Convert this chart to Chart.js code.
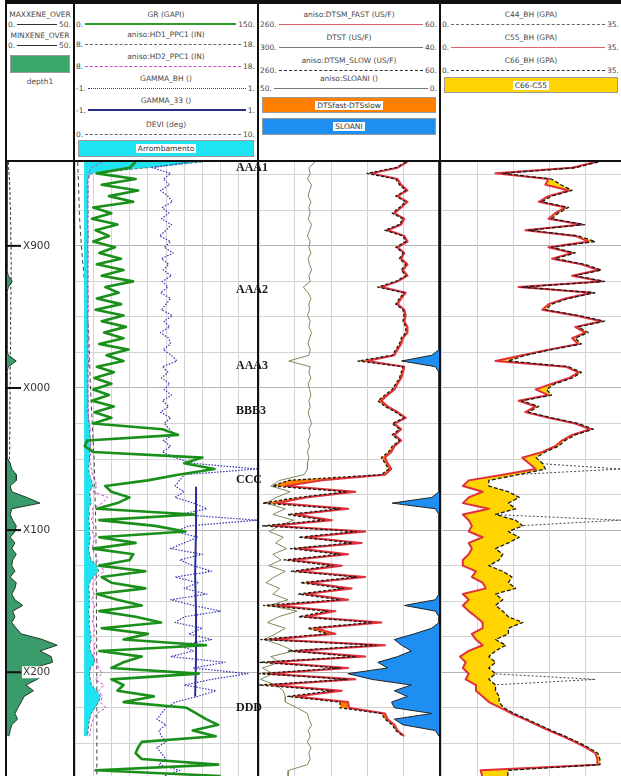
<!DOCTYPE html>
<html><head><meta charset="utf-8">
<script src="https://cdn.jsdelivr.net/npm/chart.js@4.4.1/dist/chart.umd.min.js"></script>
<style>
body{margin:0;background:#fff;}
#wrap{position:relative;width:621px;height:776px;overflow:hidden;background:#fff;font-family:"DejaVu Sans",sans-serif;}
.t{position:absolute;text-align:center;font-size:7.5px;color:#4a4a4a;white-space:nowrap;line-height:9px;}
.r{position:absolute;display:flex;align-items:center;font-size:7.5px;color:#4a4a4a;height:10px;white-space:nowrap;}
.r .ln{flex:1;margin:0 2px;height:0;}
.box{position:absolute;display:flex;align-items:center;justify-content:center;box-sizing:border-box;border:1px solid #9a9a9a;}
.box span{background:#fff;font-size:7.5px;color:#333;padding:0 2px;line-height:9px;}
.sep{position:absolute;background:#111;z-index:20;}
canvas{position:absolute;}
</style></head>
<body><div id="wrap">
<canvas id="c1" width="66" height="614" style="left:7px;top:162px;z-index:2"></canvas>
<canvas id="c4" width="180" height="614" style="left:441px;top:162px;z-index:1"></canvas>
<canvas id="c3" width="180" height="614" style="left:259px;top:162px;z-index:2"></canvas>
<canvas id="c2" width="230" height="614" style="left:75px;top:162px;z-index:3"></canvas>
</div>
<script>
// ---------------- DATA ----------------
const depth = [841,845,849,853,857,861,865,869,873,877,881,885,889,893,897,901,905,909,913,917,921,925,929,933,937,941,945,949,953,957,961,965,969,973,977,981,985,989,993,997,1001,1005,1009,1013,1017,1021,1025,1029,1033,1037,1041,1045,1049,1053,1057,1061,1065,1069,1073,1077,1081,1085,1089,1093,1097,1101,1105,1109,1113,1117,1121,1125,1129,1133,1137,1141,1145,1149,1153,1157,1161,1165,1169,1173,1177,1181,1185,1189,1193,1197,1201,1205,1209,1213,1217,1221,1225,1229,1233,1237,1241,1245,1249,1253,1257,1261,1265,1269,1273];

const depthTicks = [900,1000,1100,1200];
const depthTickLabels = ['X900','X000','X100','X200'];
const topNames = ['AAA1','AAA2','AAA3','BBB3','CCC','DDD'];
const topDepths = [845.5,931,984.5,1016,1065,1225];

const maxxene = [0,0,0,0,0,0,0,0,0,0, 0,0,0,0,0,0,0,0,0,0, 1,4,1,0,0,0,0,0,0,0, 0,0,0,0,1,7,1,0,0,0, 0,0,0,0,0,0,0,0,0,0,
 0,0,0,2.4,3.6,7.1,7.1,2.4,3.6,15, 25,3.6,2.4,4.3,7,6,2.4,6,3.6,7, 4.3,3.6,6,2.4,7,6,3.6,6,11.9,4.3, 6,3.6,7,10.7,27,38,25,33.5,34.5,20,
 30,22.9,14.3,20,13,10.7,8.3,6,8,3.6, 2.4,1.4,null,null,null,null,null,null,null];
const minxene = [1,1.2,1.5,1.8,2,2.2,2.4,2.2,2.6,2.8, 2.5,2.8,3,2.7,3,3.2,2.9,3.1,3.3,3, 3.2,3,2.8,3.1,2.9,2.7,3,2.8,2.6,2.9, 2.7,2.5,2.8,2.6,2.4,2.7,2.5,2.3,2.6,2.4, 2.2,2.5,2.3,2.1,2.4,2.2,2,2.3,2.1,1.9,
 2.2,2,1.8,2.1,1.9,1.7,2,1.8,1.6,1.9, 1.7,1.5,1.8,1.6,1.4,1.7,1.5,1.3,1.6,1.4, 1.3,1.6,1.4,1.2,1.5,1.3,1.2,1.4,1.2,1.1, 1.3,1.2,1.1,1.3,1.2,1.1,1.3,1.2,1.1,1.2,
 1.1,1.2,1.1,1.3,1.2,1.1,1.2,1.1,1.2,1.1, 1.2,1.1,null,null,null,null,null,null,null];

const gr = [50,45,18,50,22,52,28,48,15,30, 14,35,17,28,15,33,20,38,18,40, 22,48,25,36,18,38,17,40,22,42, 24,40,20,44,26,40,18,32,16,30, 15,28,14,32,16,30,15,72,85,10,
 8,15,105,90,115,85,60,25,30,45, 35,18,98,20,66,91,20,50,15,48, 45,20,58,22,30,58,18,35,55,20, 50,71,22,60,40,108,20,55,40,30,
 102,30,40,35,65,40,92,100,108,118, 97,116,55,52,50,55,118,17,120];
const hd1 = [15,12,8.9,8.72,8.7,8.74,8.7,8.72,8.7,8.73, 8.7,8.72,8.7,8.74,8.71,8.7,8.73,8.7,8.72,8.7, 8.73,8.7,8.72,8.7,8.74,8.71,8.7,8.72,8.7,8.73, 8.7,8.72,8.7,8.74,8.7,8.75,8.72,8.7,8.73,8.7, 8.72,8.7,8.74,8.7,8.72,8.75,8.78,8.8,8.82,8.85,
 8.85,8.8,8.8,8.78,8.75,8.8,8.9,9,8.8,8.85, 8.9,8.75,8.8,8.75,8.8,8.78,8.85,8.8,8.75,8.8, 8.9,9.2,9.3,9,8.8,8.75,8.8,8.78,8.8,8.75, 8.8,8.78,8.8,8.85,8.9,8.8,8.85,9,9.1,8.85,
 8.8,8.85,8.9,9.2,9.4,9.3,9.1,8.9,8.8,8.75, 8.72,8.7,null,null,null,null,null,null,null];
const hd2 = [9.5,8.9,8.75,8.7,8.72,8.7,8.73,8.7,8.72,8.7, 8.72,8.7,8.73,8.7,8.72,8.7,8.71,8.73,8.7,8.72, 8.7,8.72,8.7,8.73,8.7,8.72,8.74,8.7,8.72,8.7, 8.72,8.7,8.73,8.7,8.72,8.8,8.7,8.72,8.7,8.73, 8.7,8.72,8.7,8.73,8.75,8.72,8.8,8.85,8.8,8.9,
 8.85,8.9,8.8,8.85,8.9,8.95,9.1,9.2,9,9.8, 9.5,8.95,9,8.9,9.05,8.95,9.1,9,8.95,9.1, 9.2,9.4,9.6,9.2,9,8.95,9.05,8.9,9.1,9, 9.05,8.95,9.1,9,9.2,9.05,9.1,9,9.2,9.3,
 9.5,9.1,9.6,9.3,9.5,9.4,9.7,9.2,9,8.9, 8.85,8.8,null,null,null,null,null,null,null];
const gammaBH = [0.25,-0.15,0.05,-0.03,0.04,-0.06,0.02,0.07,-0.04,0.03, -0.05,0.06,0,-0.07,0.05,-0.02,0.08,-0.05,0.03,-0.03, 0.06,-0.04,0.02,-0.06,0.05,0,-0.05,0.07,-0.02,0.04, -0.06,0.03,0.05,-0.03,0.06,0.12,-0.04,0.02,-0.05,0.04, -0.02,0.06,-0.04,0.03,-0.06,0.05,-0.02,0.04,0.08,-0.03,
 0.05,-0.04,0.1,0.3,1,0.2,0.15,0.1,0.2,0.1, 0.3,0.45,0.15,1,0.25,0.1,0.35,0.2,0.05,0.4, 0.15,0.3,0.5,0.1,0.35,0.2,0.45,0.05,0.3,0.6, 0.2,0.1,0.4,0.25,0.5,0.15,0.3,0.05,0.65,0.3,
 0.9,0.5,0.2,0.55,0.35,0.1,0,-0.05,-0.1,0, -0.08,-0.05,0,-0.1,-0.05,0,-0.08,0.15,-0.02];
const g33Depth = [1070,1100,1130,1160,1190,1217];
const gamma33 = [0.33,0.33,0.32,0.33,0.33,0.32];
const deviDepth = [841,860,880,900,930,960,1000,1050,1100,1200,1273];
const devi = [0.15,0.2,0.25,0.35,0.55,0.75,0.85,1.05,1.15,1.2,1.2];

const dtsmFast = [95,106,135,106,102,95,106,95,102,109.5, 98.5,102,117,98.5,95,106,98.5,102,95,100, 95,106,124,97,102,106,98.5,97,98.5,95, 95,100,102,106,109.5,140,98.5,100,102,106, 109.5,117,124,117,106,97,109.5,102,109.5,102,
 109.5,113,120,117,113,120,190,230,153,208, 240,161,219,179,245,142,208,146,216,161, 223,168,216,142,205,157,208,161,240,175, 208,124,197,175,245,120,219,142,248,161,
 250,153,245,168,219,161,160,120,117,109.5, 106,98.5,null,null,null,null,null,null,null];
const dtsmSlow = [97,108,140,108,104,97,108,97,104,112, 100,104,120,100,97,108,100,104,97,102, 97,108,128,99,104,108,100,99,100,97, 97,102,104,108,112,150,100,102,104,108, 112,120,128,120,108,99,112,104,112,104,
 112,116,124,120,116,124,227,245,162,216, 256,170,228,188,256,152,216,156,225,170, 232,178,224,152,214,166,216,170,255,184, 216,134,206,184,258,130,228,152,259,170,
 260,162,260,178,228,170,170,124,120,112, 108,100,null,null,null,null,null,null,null];
const dtst = [219,228,226,230,224,227,229,225,228,226, 229,224,227,230,226,228,225,229,227,224, 228,226,236,229,225,228,227,230,226,228, 224,227,229,226,228,257,226,228,225,229, 227,225,228,226,229,227,224,228,226,229,
 227,230,228,230,230,235,270,283,255,275, 290,262,280,250,272,285,265,276,260,280, 268,286,262,278,290,270,280,258,285,245, 272,288,262,276,292,268,250,283,270,295,
 280,298,275,265,262,262,245,230,228,224, 229,226,230,225,228,226,230,257,258];
const sloani = [0,0,0,0,0,0,0,0,0,0, 0,0,0,0,0,0,0,0,0,0, 0,0,0,0,0,0,0,0,0,0, 0,0,0,0,2,10.4,1,0,0,0, 0,0,0,0,0,0,0,0,0,0,
 0,0,0,0,0,0,0,0,0,2, 13,1,0,0,0,0,0,0,0,0, 0,0,0,0,0,0,0,1,9.6,1, 0,0,2,6.9,12.4,10.4,7.7,11.5,17,14.3,
 25.3,18.7,7.7,12.4,8.8,13.2,12.4,2,12.4,10, 1,0,null,null,null,null,null,null,null];

const c55 = [30,25.5,10.6,20.9,20.3,24.9,20.9,19,24.2,22.2, 20.9,27.3,16.4,26.1,28.7,20.9,25.5,21.6,27.3,30.6, 25.5,31.2,15.1,29.3,24.2,20.9,19.7,26.1,31.2,26.1, 28,25.5,26.7,20.9,15.8,10.6,24.2,26.7,24.9,21.6, 18.4,20.9,15.1,18.4,16.4,20.9,26.1,29,25.5,23.5,
 22.2,19.7,15.8,17.1,18.4,12,5.4,4.25,8.1,5.4, 4.25,9.3,4.25,5.4,6,5.4,8.1,5.4,6,5.4, 4.25,4.25,6.8,6,8.1,8.7,4.25,5.4,4.25,5.4, 6.8,8.1,8.1,6,6.8,8.1,5.4,3.7,4.8,4.25,
 5.4,4.8,6.8,6.8,8.1,9.3,11.6,13.7,16.2,18.6, 21,23.6,26,28.2,30,30.4,30.4,7.7,8];
const c66 = [30.6,26.2,12,21.5,23.3,25.5,21.5,19.6,24.8,22.8, 21.5,27.9,17,26.7,30,21.5,26.1,22.2,27.9,31.2, 26.1,31.8,15.7,29.9,24.8,21.5,20.3,26.7,31.8,26.7, 28.6,26.1,27.3,21.5,16.4,13,24.8,27.3,25.5,22.2, 20.5,21.5,15.7,19,17,21.5,26.7,29.6,26.1,24.1,
 22.8,20.3,18.5,19.7,20.3,15,9.3,9.3,13.1,15.2, 13.1,14.5,10.6,14.5,15.9,13.1,15.2,13.1,10.6,12, 11.3,9.3,12,13.8,13.1,14.5,10.6,12,10.6,12, 13.1,15.9,13.1,13.1,10.6,12.6,10.6,9.3,10.6,9.3,
 10.6,9.3,10.6,10.6,11.3,11.3,12.2,14.2,16.7,19.1, 21.5,24.1,26.5,28.7,30.5,30.9,30.9,13,13];
const c44 = [30.3,25.8,11,21.2,21,25.2,21.2,19.3,24.5,22.5, 21.2,27.6,16.7,26.4,29.3,21.2,25.8,21.9,27.6,30.9, 25.8,31.5,15.4,29.6,24.5,21.2,20,26.4,31.5,26.4, 28.3,25.8,27,21.2,16.1,11.5,24.5,27,25.2,21.9, 19,21.2,15.4,18.7,16.7,21.2,26.4,29.3,25.8,23.8,
 22.5,20,17,18.5,35,14,8,8.5,12,14, 12,13.5,10,35,15,12.5,14,12.5,10,11.5, 10.5,9,11.5,13,12.5,14,10,11.5,10,11.5, 12.5,15,12.5,12.5,10,12,10,9,10,9,
 10,30,10,10,11,11,12,14,16.5,19, 21.3,23.8,26.2,28.5,30.3,30.7,30.7,12,12];

// ---------------- HEADER ----------------
const wrap = document.getElementById('wrap');
const tracks = [[7,73],[75,257],[259,439],[441,621]];
const headerRows = [
 [0,24,'MAXXENE_OVER','0.','50.','#333','solid',1],
 [0,45,'MINXENE_OVER','0.','50.','#333','solid',1],
 [1,24,'GR (GAPI)','0.','150.','#2aa02a','solid',2],
 [1,44,'aniso:HD1_PPC1 (IN)','8.','18.','#666','dashed',1],
 [1,66,'aniso:HD2_PPC1 (IN)','8.','18.','#c84ac8','dashed',1],
 [1,88,'GAMMA_BH ()','-1.','1.','#3a3a8a','dotted',1.5],
 [1,110,'GAMMA_33 ()','-1.','1.','#2b2b8c','solid',2],
 [1,134,'DEVI (deg)','0.','10.','#666','dashed',1],
 [2,24,'aniso:DTSM_FAST (US/F)','260.','60.','#e06070','solid',1],
 [2,47,'DTST (US/F)','300.','40.','#777','solid',1],
 [2,70,'aniso:DTSM_SLOW (US/F)','260.','60.','#333','dashed',1.5],
 [2,88,'aniso:SLOANI ()','50.','0.','#777','solid',1.5],
 [3,24,'C44_BH (GPA)','0.','35.','#666','dashed',1],
 [3,47,'C55_BH (GPA)','0.','35.','#e06070','solid',1],
 [3,70,'C66_BH (GPA)','0.','35.','#333','dashed',1.5]
];
headerRows.forEach(([t,y,title,lo,hi,col,sty,w])=>{
  const [x0,x1]=tracks[t];
  const tt=document.createElement('div'); tt.className='t';
  tt.style.cssText+=`left:${x0}px;width:${x1-x0}px;top:${y-14}px;`; tt.textContent=title; wrap.appendChild(tt);
  const r=document.createElement('div'); r.className='r';
  r.style.cssText+=`left:${x0+1}px;width:${x1-x0-3}px;top:${y-5}px;`;
  r.innerHTML=`<span>${lo}</span><div class="ln" style="border-top:${w}px ${sty} ${col}"></div><span>${hi}</span>`;
  wrap.appendChild(r);
});
const boxes = [[0,55,18,'#3aa86b',''],[1,140,17,'#1fe3f0','Arrombamento'],[2,97,16,'#ff8000','DTSfast-DTSslow'],[2,118,17,'#1e8ff0','SLOANI'],[3,77,16,'#ffd400','C66-C55']];
boxes.forEach(([t,top,h,col,label])=>{
  const [x0,x1]=tracks[t];
  const b=document.createElement('div'); b.className='box';
  b.style.cssText+=`left:${x0+3}px;width:${x1-x0-6}px;top:${top}px;height:${h}px;background:${col};`;
  if(label) b.innerHTML=`<span>${label}</span>`;
  wrap.appendChild(b);
});
(()=>{const d=document.createElement('div');d.className='t';d.style.cssText+='left:7px;width:66px;top:77px;';d.textContent='depth1';wrap.appendChild(d);})();
[[5,0,616,4],[5,160,616,2],[5,0,2,776],[73,0,2,776],[257,0,2,776],[439,0,2,776]].forEach(([l,t,w,h])=>{
  const s=document.createElement('div'); s.className='sep'; s.style.cssText+=`left:${l}px;top:${t}px;width:${w}px;height:${h}px;`; wrap.appendChild(s);
});

// ---------------- CHARTS ----------------
const DMIN=841, DMAX=1273;
function yAxis(grid){
  return {type:'linear',min:DMIN,max:DMAX,reverse:true,display:true,
    ticks:{display:false,stepSize:25,includeBounds:false},border:{display:false},
    grid:{display:grid,drawTicks:false,lineWidth:1,color:c=>(c.tick&&c.tick.value%100===0)?'#b4b4b4':'#d4d4d4'}};
}
function xAxis(min,max,step,rev,grid){
  return {type:'linear',min,max,reverse:!!rev,display:!!grid,position:'top',
    ticks:{display:false,stepSize:step},border:{display:false},
    grid:{display:!!grid,drawTicks:false,color:'#d4d4d4',lineWidth:1}};
}
function pts(vals,dep){dep=dep||depth;return dep.map((d,i)=>({x:vals[i],y:d}));}
function ds(label,vals,axis,opts,dep){
  return Object.assign({label,data:pts(vals,dep),xAxisID:axis,yAxisID:'y',pointRadius:0,borderWidth:1,
    tension:0,fill:false,spanGaps:false,borderJoinStyle:'round'},opts);
}
function make(id,datasets,scales,padRight,plugins){
  return new Chart(document.getElementById(id),{type:'line',data:{datasets},
    options:{indexAxis:'y',responsive:false,animation:false,devicePixelRatio:1,events:[],
      layout:{padding:{left:0,top:0,bottom:0,right:padRight||0}},
      plugins:{legend:{display:false},tooltip:{enabled:false}},scales},
    plugins:plugins||[]});
}

const depthLabelPlugin={id:'depthLabels',afterDatasetsDraw(chart){
  const {ctx,chartArea:a,scales:{y}}=chart;
  ctx.save(); ctx.font='10.5px "DejaVu Sans"'; ctx.textBaseline='middle';
  depthTicks.forEach((d,i)=>{
    const py=y.getPixelForValue(d), t=depthTickLabels[i], w=ctx.measureText(t).width;
    ctx.fillStyle='#fff'; ctx.fillRect(a.left+15,py-6,w+3,12);
    ctx.fillStyle='#111'; ctx.fillRect(a.left,py-1,14,2);
    ctx.fillStyle='#333'; ctx.fillText(t,a.left+16,py);
  });
  ctx.restore();
}};
const topsPlugin={id:'tops',afterDatasetsDraw(chart){
  const {ctx,chartArea:a,scales:{y}}=chart;
  ctx.save(); ctx.font='bold 12px "Liberation Serif"'; ctx.textBaseline='middle'; ctx.fillStyle='#1a1a1a';
  topNames.forEach((n,i)=>ctx.fillText(n,a.right-21,y.getPixelForValue(topDepths[i])));
  ctx.restore();
}};

// Track 1
make('c1',[
  ds('MAXXENE_OVER',maxxene,'xMax',{borderColor:'#1d3a2a',borderWidth:1,backgroundColor:'#3a9c6a',fill:{value:0}}),
  ds('MINXENE_OVER',minxene,'xMin',{borderColor:'#333',borderWidth:1,borderDash:[3,2]})
],{y:yAxis(false),xMax:xAxis(0,50,10,false,false),xMin:xAxis(0,50,10,false,false)},0,[depthLabelPlugin]);

// Track 2
make('c2',[
  ds('GR',gr,'xGR',{borderColor:'#1a8f1a',borderWidth:2.6,order:0}),
  ds('GAMMA_BH',gammaBH,'xGam',{borderColor:'#3434b4',borderWidth:1.2,borderDash:[1.5,1.5],order:1}),
  ds('GAMMA_33',gamma33,'xGam',{borderColor:'#2b2b9a',borderWidth:2,order:2},g33Depth),
  ds('aniso:HD2_PPC1',hd2,'xCal',{borderColor:'#d04ad0',borderWidth:1,borderDash:[3,2],order:3}),
  ds('aniso:HD1_PPC1',hd1,'xCal',{borderColor:'#555',borderWidth:0.8,borderDash:[3,2],backgroundColor:'#1fe3f0',fill:{value:8.5},order:4}),
  ds('DEVI',devi,'xDev',{borderColor:'#444',borderWidth:1,borderDash:[4,3],order:5},deviDepth)
],{y:yAxis(true),xGR:xAxis(0,150,15,false,true),xGam:xAxis(-1,1,0.2,false,false),xCal:xAxis(8,18,1,false,false),xDev:xAxis(0,10,1,false,false)},48,[topsPlugin]);

// Track 3
make('c3',[
  ds('aniso:DTSM_FAST',dtsmFast,'xDTS',{borderColor:'#e0303c',borderWidth:2,backgroundColor:'#ff8000',fill:1,order:1}),
  ds('aniso:DTSM_SLOW',dtsmSlow,'xDTS',{borderColor:'#1a1a1a',borderWidth:1.3,borderDash:[3,2],order:0}),
  ds('DTST',dtst,'xDTST',{borderColor:'#7d8a5a',borderWidth:1,order:2}),
  ds('aniso:SLOANI',sloani,'xSlo',{borderColor:'#222',borderWidth:1,backgroundColor:'#1e8ff0',fill:{value:0},order:3})
],{y:yAxis(true),xDTS:xAxis(60,260,40,true,true),xDTST:xAxis(40,300,20,true,false),xSlo:xAxis(0,50,10,true,false)});

// Track 4
make('c4',[
  ds('C55_BH',c55,'xC',{borderColor:'#e0303c',borderWidth:2,backgroundColor:'#ffd400',fill:1,order:1}),
  ds('C66_BH',c66,'xC',{borderColor:'#1a1a1a',borderWidth:1.3,borderDash:[4,2],order:0}),
  ds('C44_BH',c44,'xC',{borderColor:'#333',borderWidth:0.9,borderDash:[2,2],order:2})
],{y:yAxis(true),xC:xAxis(0,35,7,false,true)});
</script>
</body></html>
